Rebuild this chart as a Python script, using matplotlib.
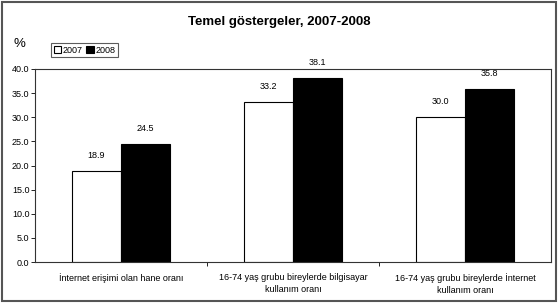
import matplotlib
matplotlib.use("Agg")
import matplotlib.pyplot as plt
from matplotlib.patches import Rectangle
import numpy as np

categories = ["İnternet erişimi olan hane oranı",
              "16-74 yaş grubu bireylerde bilgisayar\nkullanım oranı",
              "16-74 yaş grubu bireylerde İnternet\nkullanım oranı"]
series_names = ["2007", "2008"]
values_2007 = [18.9, 33.2, 30.0]
values_2008 = [24.5, 38.1, 35.8]
yticks = [0, 5, 10, 15, 20, 25, 30, 35, 40]

plt.rcParams['font.family'] = ['Liberation Sans Narrow', 'Liberation Sans', 'DejaVu Sans']

W, H = 558, 303
fig = plt.figure(figsize=(W/100, H/100), dpi=100)
ax = fig.add_axes([35/W, 1-262/H, (551-35)/W, (262-69)/H])

x = np.arange(len(categories))
bw = 1/3.5
b1 = ax.bar(x - bw/2, values_2007, bw, color='white', edgecolor='black', linewidth=0.8, label=series_names[0])
b2 = ax.bar(x + bw/2, values_2008, bw, color='black', edgecolor='black', linewidth=0.8, label=series_names[1])

for bars, vals in ((b1, values_2007), (b2, values_2008)):
    for r, v in zip(bars, vals):
        ax.annotate(f"{v:.1f}", (r.get_x() + r.get_width()/2, v), xytext=(0, 8),
                    textcoords='offset points', ha='center', va='bottom', fontsize=6.5)

ax.set_xlim(-0.5, 2.5)
ax.set_ylim(0, 40)
ax.set_yticks(yticks)
ax.set_yticklabels([f"{t:.1f}" for t in yticks], fontsize=6.5)
ax.set_xticks([0.5, 1.5], minor=False)
ax.set_xticklabels([])
ax.tick_params(axis='x', length=3, width=0.6, direction='out')
ax.tick_params(axis='y', length=3, width=0.6, direction='out', pad=1)
for i, c in enumerate(categories):
    ax.text(i, -2.2, c, ha='center', va='top', fontsize=6.5, linespacing=1.55)
for s in ax.spines.values():
    s.set_linewidth(0.8)
    s.set_color('#333333')

fig.text(279/W, 1-22/H, "Temel göstergeler, 2007-2008", ha='center', va='center',
         fontsize=9.5, fontweight='bold', family=['Liberation Sans', 'DejaVu Sans'])
fig.text(13/W, 1-44/H, "%", ha='left', va='center', fontsize=9.5, family=['Liberation Sans', 'DejaVu Sans'])

leg = ax.legend(loc='upper left', bbox_to_anchor=(51/W, 1-43/H), bbox_transform=fig.transFigure,
                ncol=2, fontsize=6.5, frameon=True, fancybox=False, handlelength=0.8, handleheight=0.8,
                handletextpad=0.2, columnspacing=0.4, borderpad=0.3, borderaxespad=0)
leg.get_frame().set_edgecolor('#333333')
leg.get_frame().set_linewidth(0.8)

fig.patches.append(Rectangle((2/W, 2/H), (W-4)/W, (H-4)/H, transform=fig.transFigure,
                             fill=False, edgecolor='#555555', linewidth=1.5))

fig.savefig("out.png", dpi=100)
